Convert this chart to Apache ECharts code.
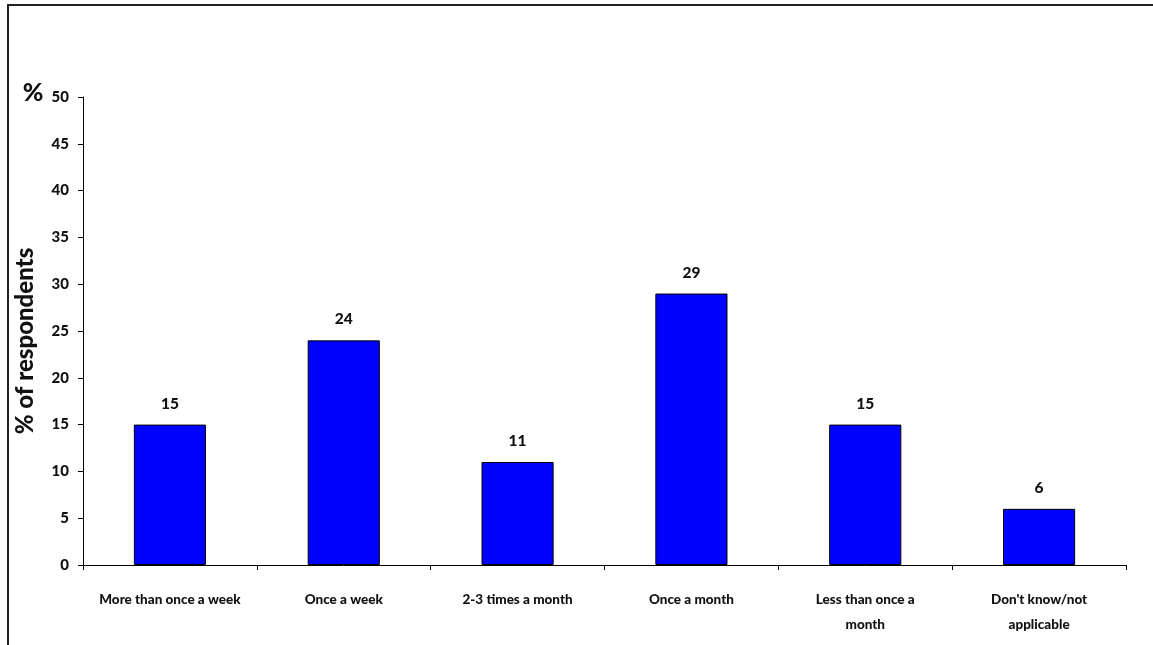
<!DOCTYPE html>
<html>
<head>
<meta charset="utf-8">
<script src="https://cdn.jsdelivr.net/npm/echarts@6/dist/echarts.min.js"></script>
<style>
  html, body { margin: 0; padding: 0; background: #fff; }
  #chart { width: 1153px; height: 645px; }
</style>
</head>
<body>
<div id="chart"></div>
<script>
// Frequency categories and share of respondents (%)
const categories = [
  'More than once a week',
  'Once a week',
  '2-3 times a month',
  'Once a month',
  'Less than once a\nmonth',
  "Don't know/not\napplicable"
];
const respondents = [15, 24, 11, 29, 15, 6];
const yTicks = { min: 0, max: 50, interval: 5 };

const FONT = 'Lato, "DejaVu Sans", sans-serif';
const WEIGHT = 900;

const chart = echarts.init(document.getElementById('chart'), null, { renderer: 'canvas' });

chart.setOption({
  animation: false,
  backgroundColor: '#ffffff',
  grid: { left: 83, right: 27, top: 97, bottom: 80, containLabel: false },
  xAxis: {
    type: 'category',
    data: categories,
    axisLine: { show: true, lineStyle: { color: '#000', width: 1 } },
    axisTick: { show: true, alignWithLabel: false, length: 5, lineStyle: { color: '#000' } },
    axisLabel: {
      interval: 0,
      margin: 22,
      color: '#111',
      fontFamily: FONT,
      fontWeight: WEIGHT,
      fontSize: 13.5,
      lineHeight: 25
    }
  },
  yAxis: {
    type: 'value',
    min: yTicks.min,
    max: yTicks.max,
    interval: yTicks.interval,
    splitLine: { show: false },
    axisLine: { show: true, lineStyle: { color: '#000', width: 1 } },
    axisTick: { show: true, length: 5, lineStyle: { color: '#000' } },
    axisLabel: {
      margin: 14,
      color: '#111',
      fontFamily: FONT,
      fontWeight: WEIGHT,
      fontSize: 15
    }
  },
  series: [{
    type: 'bar',
    data: respondents,
    barWidth: '41.5%',
    itemStyle: { color: '#0000ff', borderColor: '#000', borderWidth: 1 },
    label: {
      show: true,
      position: 'top',
      distance: 13,
      color: '#111',
      fontFamily: FONT,
      fontWeight: WEIGHT,
      fontSize: 15.5
    }
  }],
  graphic: [
    {
      type: 'polyline',
      shape: { points: [[8, 645], [8, 5], [1153, 5]] },
      style: { stroke: '#222', lineWidth: 2, fill: null },
      silent: true
    },
    {
      type: 'text',
      x: 33, y: 93,
      style: {
        text: '%',
        fill: '#111',
        font: WEIGHT + ' 25px ' + FONT,
        textAlign: 'center',
        textVerticalAlign: 'middle'
      }
    },
    {
      type: 'text',
      x: 25, y: 341,
      rotation: Math.PI / 2,
      style: {
        text: '% of respondents',
        fill: '#111',
        font: WEIGHT + ' 24px ' + FONT,
        textAlign: 'center',
        textVerticalAlign: 'middle'
      }
    }
  ]
});
</script>
</body>
</html>
